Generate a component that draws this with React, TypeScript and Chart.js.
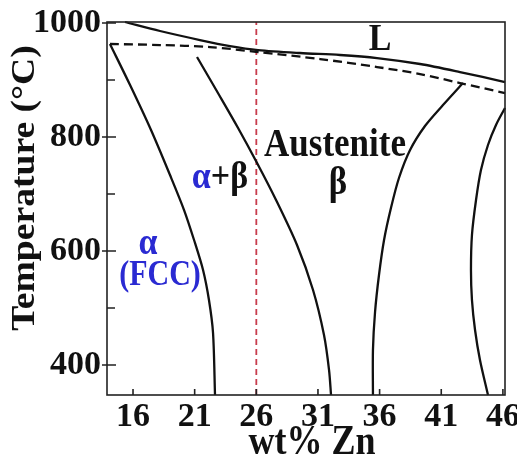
import React, { useEffect, useRef } from "react";
import { Chart, registerables } from "chart.js";

Chart.register(...registerables);

const SERIF = '"Liberation Serif", "Times New Roman", serif';
const INK = "#111111";
const BLUE = "#2a2ad2";
const RED = "#c83c4c";

// Axis ticks: composition (wt% Zn) and temperature (°C)
const xTicks = [16, 21, 26, 31, 36, 41, 46];
const yTicks = [400, 600, 800, 1000];
const yMinorTicks = [500, 700, 900];
const xRange = [13.89, 46.17];
const yRange = [347.4, 1001.8];

// Phase boundaries as [wt% Zn, T °C]
const liquidus = [
  [15.35, 1001.8], [18.19, 986], [21.43, 970.2], [23.87, 959.6], [26.14, 952.6], [29.54, 947.4],
  [32.79, 943.9], [35.79, 938.6], [39.28, 928.1], [42.52, 914], [46.17, 896.5],
];
const solidus = [
  [14.13, 963.2], [18.19, 961.4], [22.24, 957.9], [26.14, 949.1], [31.17, 936.8],
  [35.79, 922.8], [39.28, 910.5], [42.52, 894.7], [46.17, 877.2],
];
const alphaSolvus = [
  [14.13, 963.2], [15.76, 891.2], [17.46, 812.3], [19.0, 733.3], [20.14, 671.9],
  [20.95, 619.3], [21.68, 566.7], [22.16, 514], [22.49, 456.1], [22.65, 347.4],
];
const betaLowZn = [
  [21.19, 940.4], [22.89, 877.2], [24.52, 815.8], [26.06, 754.4], [27.6, 689.5],
  [29.3, 610.5], [30.6, 531.6], [31.49, 452.6], [31.9, 391.2], [32.06, 347.4],
];
const betaHighZn = [
  [42.76, 894.7], [41.14, 856.1], [39.68, 819.3], [38.47, 777.2], [37.57, 728.1], [36.92, 675.4],
  [36.36, 619.3], [35.95, 557.9], [35.63, 493], [35.46, 426.3], [35.46, 347.4],
];
const gammaBoundary = [
  [46.17, 850.9], [45.44, 821.1], [44.79, 786], [44.22, 742.1], [43.82, 689.5], [43.49, 628.1],
  [43.41, 566.7], [43.49, 514], [43.74, 461.4], [44.14, 408.8], [44.79, 347.4],
];

// Alloy composition marker
const alloyZn = 26;

const pts = (arr: number[][]) => arr.map(([x, y]) => ({ x, y }));

function stretchedText(
  ctx: CanvasRenderingContext2D,
  text: string,
  x: number,
  y: number,
  size: number,
  color: string,
  k = 1.12,
  align: CanvasTextAlign = "center"
) {
  ctx.save();
  ctx.translate(x, y);
  ctx.scale(1, k);
  ctx.font = `bold ${size}px ${SERIF}`;
  ctx.fillStyle = color;
  ctx.textAlign = align;
  ctx.textBaseline = "middle";
  ctx.fillText(text, 0, 0);
  ctx.restore();
}

const framePlugin = {
  id: "phaseFrame",
  afterDraw(chart: any) {
    const { ctx, chartArea: a, scales } = chart;
    const xs = scales.x;
    const ys = scales.y;
    ctx.save();
    ctx.strokeStyle = "#222";
    ctx.lineWidth = 1.6;
    ctx.strokeRect(a.left, a.top, a.right - a.left, a.bottom - a.top);
    ctx.beginPath();
    for (const v of xTicks) {
      const px = xs.getPixelForValue(v);
      ctx.moveTo(px, a.bottom);
      ctx.lineTo(px, a.bottom - 6);
    }
    for (const v of yTicks) {
      const py = ys.getPixelForValue(v);
      ctx.moveTo(a.left - 5, py);
      ctx.lineTo(a.left + 9, py);
    }
    for (const v of yMinorTicks) {
      const py = ys.getPixelForValue(v);
      ctx.moveTo(a.left, py);
      ctx.lineTo(a.left + 8, py);
    }
    ctx.stroke();
    ctx.restore();

    // axis titles
    ctx.save();
    ctx.translate(25, 188);
    ctx.rotate(-Math.PI / 2);
    ctx.scale(1.14, 1);
    ctx.font = `bold 33px ${SERIF}`;
    ctx.fillStyle = INK;
    ctx.textAlign = "center";
    ctx.textBaseline = "middle";
    ctx.fillText("Temperature (\u00B0C)", 0, 0);
    ctx.restore();
    stretchedText(ctx, "wt% Zn", 312, 443, 36, INK, 1.15);

    // phase region labels
    stretchedText(ctx, "L", 380, 40, 34, INK);
    stretchedText(ctx, "Austenite", 335, 146, 35, INK);
    stretchedText(ctx, "\u03B2", 338, 184, 35, INK);

    ctx.save();
    ctx.font = `bold 34px ${SERIF}`;
    const wA = ctx.measureText("\u03B1").width;
    const wB = ctx.measureText("+\u03B2").width;
    ctx.restore();
    const startX = 220 - (wA + wB) / 2;
    stretchedText(ctx, "\u03B1", startX, 178, 34, BLUE, 1.12, "left");
    stretchedText(ctx, "+\u03B2", startX + wA, 178, 34, INK, 1.12, "left");

    stretchedText(ctx, "\u03B1", 148, 244, 34, BLUE);
    stretchedText(ctx, "(FCC)", 160, 276, 30, BLUE, 1.2);
  },
};

const curve = (data: number[][], dash: number[] = []) => ({
  data: pts(data),
  showLine: true,
  borderColor: INK,
  borderWidth: 2.3,
  borderDash: dash,
  pointRadius: 0,
  tension: 0.3,
  clip: 4,
});

export default function App() {
  const canvasRef = useRef<HTMLCanvasElement | null>(null);

  useEffect(() => {
    if (!canvasRef.current) return;
    const chart = new Chart(canvasRef.current, {
      type: "scatter",
      data: {
        datasets: [
          curve(liquidus),
          curve(solidus, [9, 5]),
          curve(alphaSolvus),
          curve(betaLowZn),
          curve(betaHighZn),
          curve(gammaBoundary),
          {
            data: pts([[alloyZn, yRange[0]], [alloyZn, yRange[1]]]),
            showLine: true,
            borderColor: RED,
            borderWidth: 1.8,
            borderDash: [6, 4],
            pointRadius: 0,
            tension: 0,
          },
        ],
      },
      options: {
        responsive: false,
        animation: false,
        layout: { padding: { left: 0, right: 12, top: 22, bottom: 0 } },
        plugins: { legend: { display: false }, tooltip: { enabled: false } },
        scales: {
          x: {
            type: "linear",
            min: xRange[0],
            max: xRange[1],
            afterBuildTicks: (s: any) => {
              s.ticks = xTicks.map((v) => ({ value: v }));
            },
            afterFit: (s: any) => {
              s.height = 68;
              s.paddingLeft = 0;
              s.paddingRight = 0;
            },
            grid: { display: false, drawTicks: false },
            border: { display: false },
            ticks: {
              autoSkip: false,
              maxRotation: 0,
              padding: 2,
              color: INK,
              font: { family: SERIF, size: 34, weight: "bold" },
              callback: (v: any) => String(v),
            },
          },
          y: {
            type: "linear",
            min: yRange[0],
            max: yRange[1],
            afterBuildTicks: (s: any) => {
              s.ticks = yTicks.map((v) => ({ value: v }));
            },
            afterFit: (s: any) => {
              s.width = 107;
              s.paddingTop = 0;
              s.paddingBottom = 0;
            },
            grid: { display: false, drawTicks: false },
            border: { display: false },
            ticks: {
              padding: 6,
              color: INK,
              font: { family: SERIF, size: 34, weight: "bold" },
              callback: (v: any) => String(v),
            },
          },
        },
      },
      plugins: [framePlugin],
    } as any);
    return () => chart.destroy();
  }, []);

  return (
    <div style={{ position: "fixed", left: 0, top: 0, width: 517, height: 463, background: "#fff" }}>
      <canvas ref={canvasRef} width={517} height={463} style={{ width: 517, height: 463 }} />
    </div>
  );
}
